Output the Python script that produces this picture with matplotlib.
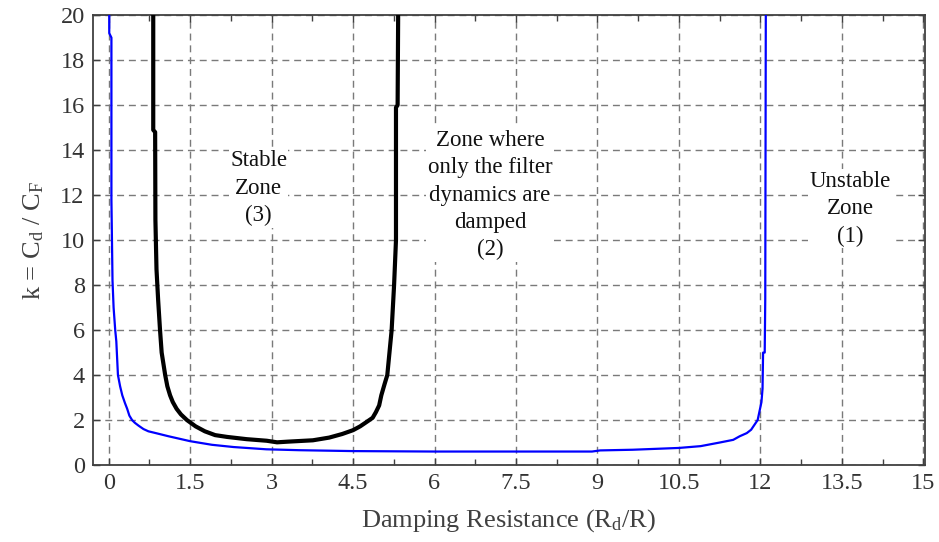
import numpy as np
import matplotlib
matplotlib.use('Agg')
import matplotlib.pyplot as plt
from matplotlib.ticker import MultipleLocator

# blue curve: boundary between unstable zone and filter-damped zone
blue_x = [0.01, 0.01, 0.05, 0.05, 0.07, 0.09, 0.12, 0.14, 0.17, 0.21, 0.25, 0.3,
          0.34, 0.38, 0.43, 0.48, 0.55, 0.64, 0.73, 0.9, 1.1, 1.5, 1.9, 2.3,
          2.9, 3.5, 4.5, 6.0, 7.5, 8.9, 9.05, 9.65, 10.5, 10.9, 11.25, 11.5,
          11.62, 11.75, 11.83, 11.95, 12.02, 12.04, 12.05, 12.08, 12.09, 12.1]
blue_y = [20, 19.2, 19.0, 11.8, 8.2, 7.0, 6.0, 5.5, 4.0, 3.5, 3.1, 2.75,
          2.5, 2.2, 2.0, 1.88, 1.75, 1.6, 1.5, 1.4, 1.28, 1.06, 0.9, 0.8,
          0.7, 0.66, 0.62, 0.6, 0.6, 0.6, 0.65, 0.68, 0.76, 0.84, 1.0, 1.12,
          1.28, 1.42, 1.57, 2.0, 2.8, 3.4, 5.0, 5.0, 7.4, 20]

# black curve: stable zone boundary
black_x = [0.82, 0.82, 0.855, 0.86, 0.88, 0.91, 0.945, 0.975, 1.04, 1.08, 1.13,
           1.18, 1.25, 1.33, 1.44, 1.6, 1.77, 1.96, 2.18, 2.54, 2.91, 3.1, 3.3,
           3.76, 4.06, 4.3, 4.5, 4.63, 4.74, 4.86, 4.92, 4.98, 5.02, 5.08,
           5.13, 5.17, 5.21, 5.255, 5.29, 5.29, 5.32, 5.33]
black_y = [20, 14.9, 14.8, 10.9, 8.7, 7.35, 6.0, 5.0, 4.0, 3.5, 3.1,
           2.8, 2.5, 2.25, 2.0, 1.72, 1.5, 1.33, 1.25, 1.15, 1.08, 1.01, 1.04,
           1.1, 1.22, 1.38, 1.55, 1.72, 1.9, 2.1, 2.35, 2.65, 3.1, 3.6,
           4.0, 5.0, 6.0, 8.0, 10.0, 15.9, 16.0, 20]

x_ticks = [0, 1.5, 3, 4.5, 6, 7.5, 9, 10.5, 12, 13.5, 15]
x_ticklabels = ['0', '1.5', '3', '4.5', '6', '7.5', '9', '10.5', '12', '13.5', '15']
y_ticks = [0, 2, 4, 6, 8, 10, 12, 14, 16, 18, 20]

zone_labels = ['Stable\nZone\n(3)',
               'Zone where\nonly the filter\ndynamics are\ndamped\n(2)',
               'Unstable\nZone\n(1)']
zone_x = [2.76, 7.02, 13.65]
zone_y = [12.3, 12.0, 11.4]

plt.rcParams['font.family'] = ['Liberation Serif', 'DejaVu Serif']
plt.rcParams['mathtext.fontset'] = 'custom'
plt.rcParams['mathtext.rm'] = 'Liberation Serif'
plt.rcParams['mathtext.it'] = 'Liberation Serif:italic'

fig = plt.figure(figsize=(9.39, 5.42), dpi=100)
ax = fig.add_axes([0.099, 0.142, 0.886, 0.830])

ax.plot(blue_x, blue_y, color='#0000ff', lw=1.6, zorder=3)
ax.plot(black_x, black_y, color='black', lw=3.0, zorder=3)

ax.set_xlim(-0.29, 15.03)
ax.set_ylim(0, 20)
ax.set_xticks(x_ticks)
ax.set_xticklabels(x_ticklabels)
ax.set_yticks(y_ticks)
ax.xaxis.set_minor_locator(MultipleLocator(0.75))

ax.grid(True, which='major', color='#7a7a7a', linestyle=(0, (5, 3.5)), lw=1.0)
ax.tick_params(which='both', direction='in', top=True, right=True,
               labelsize=17.5, labelcolor='#333333', color='#404040', pad=6)
ax.tick_params(which='major', length=5, width=1)
ax.tick_params(which='minor', length=4, width=1)
for s in ax.spines.values():
    s.set_color('#404040')
    s.set_linewidth(1.3)

ax.set_xlabel(r'Damping Resistance (R$_{\rm d}$/R)', fontsize=19,
              color='#404040', labelpad=9)
ax.set_ylabel(r'k = C$_{\rm d}$ / C$_{\rm F}$', fontsize=19,
              color='#404040', labelpad=10)

for lab, tx, ty in zip(zone_labels, zone_x, zone_y):
    ax.text(tx, ty, lab, ha='center', va='center', fontsize=16.5,
            linespacing=1.4, color='#111111', zorder=4,
            bbox=dict(facecolor='white', edgecolor='none', pad=1))

fig.savefig('out.png', dpi=100)
